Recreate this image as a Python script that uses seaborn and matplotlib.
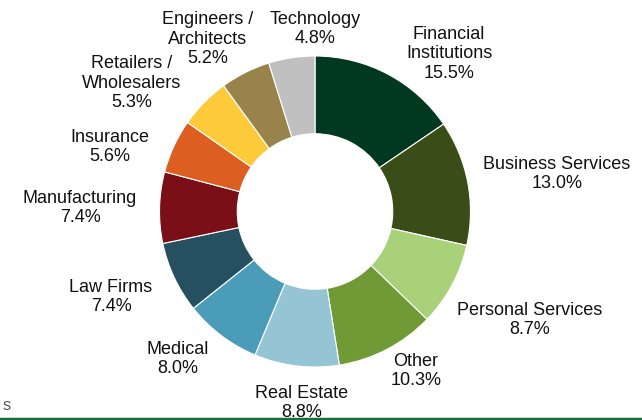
import matplotlib
matplotlib.use("Agg")
import matplotlib.pyplot as plt
import seaborn as sns

# data (clockwise from 12 o'clock)
sectors = ["Financial\nInstitutions", "Business Services", "Personal Services", "Other",
           "Real Estate", "Medical", "Law Firms", "Manufacturing", "Insurance",
           "Retailers /\nWholesalers", "Engineers /\nArchitects", "Technology"]
shares = [15.5, 13.0, 8.7, 10.3, 8.8, 8.0, 7.4, 7.4, 5.6, 5.3, 5.2, 4.8]
colors = ["#003820", "#3a4d19", "#a9d179", "#6f9a35", "#95c4d4", "#4b9cb8",
          "#26505f", "#7a0f18", "#dc5f21", "#fdca3a", "#98844b", "#c0c0c0"]

# label anchor points in pixels (x from left, y from top)
label_pos = [(449, 54), (557, 174), (530, 320), (416, 371), (302, 403), (178, 359),
             (111, 297), (80, 208), (110, 147), (132, 83), (208, 39), (315, 29)]

sns.set_style("white")
plt.rcParams['font.family'] = ['Liberation Sans', 'DejaVu Sans']

W, H = 642, 420
cx, cy, R = 315, 211.5, 155.5

fig = plt.figure(figsize=(W / 100, H / 100), dpi=100)
ax = fig.add_axes([0, 0, 1, 1])
ax.pie(shares, colors=colors, startangle=90, counterclock=False, radius=1,
       wedgeprops=dict(width=0.5, edgecolor="white", linewidth=0.8))
ax.set_xlim(-cx / R, (W - cx) / R)
ax.set_ylim((cy - H) / R, cy / R)
ax.set_aspect("equal")
ax.axis("off")

for name, val, (px, py) in zip(sectors, shares, label_pos):
    ax.text((px - cx) / R, (cy - py) / R, f"{name}\n{val:.1f}%", ha="center", va="center",
            fontsize=13, color="#111111", linespacing=1.2)

# footer bits
fig.text(3 / W, 1 - 405 / H, "s", fontsize=12, color="#595959", ha="left", va="center")
fig.add_artist(plt.Line2D([0, 1], [1 - 418.5 / H, 1 - 418.5 / H], color="#1d6b3b",
                          linewidth=2.5, transform=fig.transFigure, zorder=10))

fig.savefig("out.png", dpi=100)
